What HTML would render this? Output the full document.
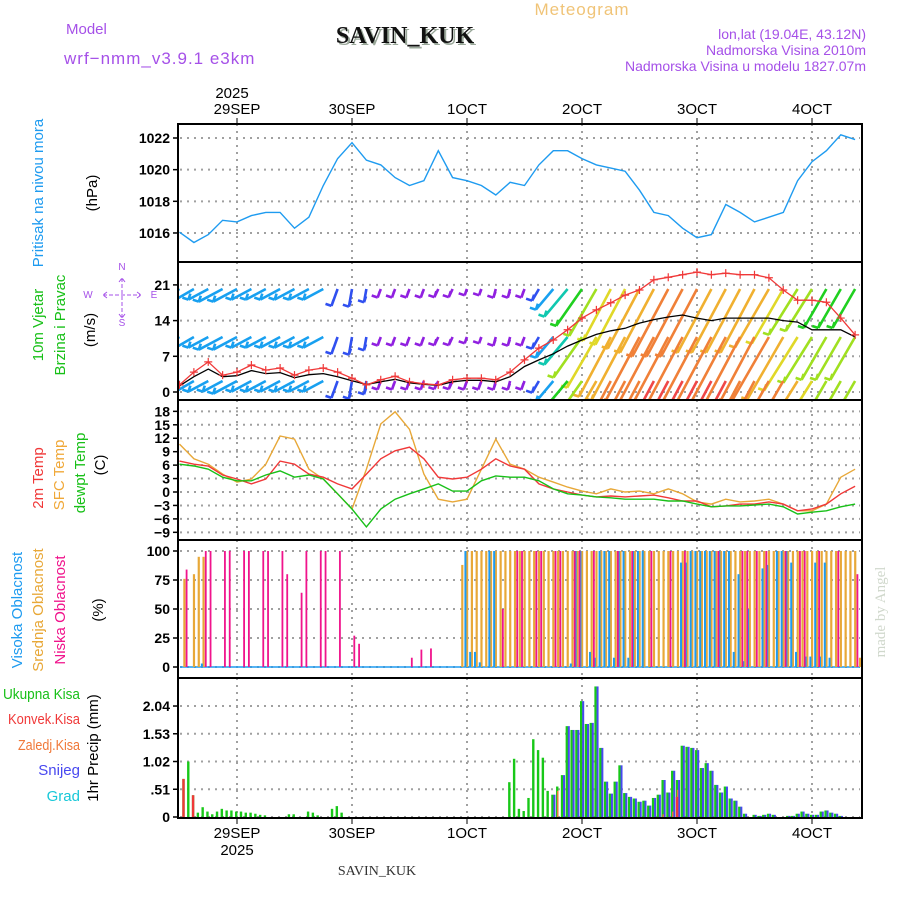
<!DOCTYPE html>
<html><head><meta charset="utf-8"><style>
html,body{margin:0;padding:0;background:#fff;}
svg{display:block;font-family:"Liberation Sans",sans-serif;}
.tk{font-size:14px;font-weight:bold;fill:#000;text-anchor:end;}
.dt{font-size:15px;fill:#000;text-anchor:middle;}
</style></head><body>
<svg id="chart" width="900" height="900" viewBox="0 0 900 900" xmlns="http://www.w3.org/2000/svg">
<defs>
<clipPath id="c1"><rect x="179" y="125" width="682" height="136"/></clipPath>
<clipPath id="c2"><rect x="179" y="263" width="682" height="136"/></clipPath>
<clipPath id="c3"><rect x="179" y="401" width="682" height="138"/></clipPath>
<clipPath id="c4"><rect x="179" y="541" width="682" height="136"/></clipPath>
<clipPath id="c5"><rect x="179" y="679" width="682" height="138"/></clipPath>
</defs>
<text x="582" y="15" font-size="17" fill="#f0c478" text-anchor="middle" letter-spacing="1">Meteogram</text>
<text x="66" y="34" font-size="15" fill="#a550e8">Model</text>
<text x="64" y="64" font-size="17" fill="#a550e8" letter-spacing="1">wrf−nmm_v3.9.1 e3km</text>
<text x="407" y="45" font-family="Liberation Serif" font-weight="bold" font-size="24" fill="#9aa89a" text-anchor="middle">SAVIN_KUK</text>
<text x="405" y="43" font-family="Liberation Serif" font-weight="bold" font-size="24" fill="#111" text-anchor="middle">SAVIN_KUK</text>
<text x="866" y="39" font-size="14" fill="#a550e8" text-anchor="end">lon,lat (19.04E, 43.12N)</text>
<text x="866" y="55" font-size="14" fill="#a550e8" text-anchor="end">Nadmorska Visina 2010m</text>
<text x="866" y="71" font-size="14" fill="#a550e8" text-anchor="end">Nadmorska Visina u modelu 1827.07m</text>
<g id="grid"></g>
<g id="marks"></g>
<g id="axes"></g>
<text transform="translate(43,193) rotate(-90)" font-size="15" fill="#1e9bf0" text-anchor="middle">Pritisak na nivou mora</text>
<text transform="translate(97,193) rotate(-90)" font-size="15" fill="#000" text-anchor="middle">(hPa)</text>
<text transform="translate(43,325) rotate(-90)" font-size="15" fill="#18c018" text-anchor="middle">10m Vjetar</text>
<text transform="translate(65,325) rotate(-90)" font-size="15" fill="#18c018" text-anchor="middle">Brzina i Pravac</text>
<text transform="translate(95,330) rotate(-90)" font-size="15" fill="#000" text-anchor="middle">(m/s)</text>
<g fill="#a550e8" font-size="10" text-anchor="middle">
<text x="122" y="270">N</text><text x="122" y="326">S</text><text x="88" y="298">W</text><text x="154" y="298">E</text>
<path d="M103 295 H141 M122 278 V318 M107 292 L103 295 L107 298 M137 292 L141 295 L137 298 M119 282 L122 278 L125 282 M119 314 L122 318 L125 314" stroke="#a550e8" stroke-width="1" fill="none" stroke-dasharray="4 2"/>
</g>
<text transform="translate(43,478) rotate(-90)" font-size="15" fill="#f03838" text-anchor="middle">2m Temp</text>
<text transform="translate(64,475) rotate(-90)" font-size="15" fill="#f0a838" text-anchor="middle">SFC Temp</text>
<text transform="translate(85,473) rotate(-90)" font-size="15" fill="#18c018" text-anchor="middle">dewpt Temp</text>
<text transform="translate(105,465) rotate(-90)" font-size="15" fill="#000" text-anchor="middle">(C)</text>
<text transform="translate(22,610) rotate(-90)" font-size="15" fill="#1e9bf0" text-anchor="middle">Visoka Oblacnost</text>
<text transform="translate(43,610) rotate(-90)" font-size="15" fill="#e8a838" text-anchor="middle">Srednja Oblacnost</text>
<text transform="translate(65,610) rotate(-90)" font-size="15" fill="#f0148c" text-anchor="middle">Niska Oblacnost</text>
<text transform="translate(103,610) rotate(-90)" font-size="15" fill="#000" text-anchor="middle">(%)</text>
<text x="3" y="699" font-size="15" fill="#18c018" textLength="77" lengthAdjust="spacingAndGlyphs">Ukupna Kisa</text>
<text x="8" y="724" font-size="15" fill="#f03838" textLength="72" lengthAdjust="spacingAndGlyphs">Konvek.Kisa</text>
<text x="18" y="750" font-size="15" fill="#f07838" textLength="62" lengthAdjust="spacingAndGlyphs">Zaledj.Kisa</text>
<text x="80" y="775" font-size="15" fill="#4848f0" text-anchor="end">Snijeg</text>
<text x="80" y="801" font-size="15" fill="#18c8d8" text-anchor="end">Grad</text>
<text transform="translate(98,748) rotate(-90)" font-size="15" fill="#000" text-anchor="middle">1hr Precip (mm)</text>
<text transform="translate(885,612) rotate(-90)" font-family="Liberation Serif" font-size="15" fill="#d0d8cc" text-anchor="middle">made by Angel</text>
<text x="377" y="875" font-family="Liberation Serif" font-size="14" fill="#333" text-anchor="middle">SAVIN_KUK</text>
</svg>
<script>
const days=["29SEP","30SEP","1OCT","2OCT","3OCT","4OCT"];
const dayHours=[12,36,60,84,108,132];
const pTicks=[1016,1018,1020,1022];
const wTicks=[0,7,14,21];
const tTicks=[18,15,12,9,6,3,0,-3,-6,-9];
const cTicks=[0,25,50,75,100];
const rTicks=[0,0.51,1.02,1.53,2.04];
const pressure=[1016.05,1015.4,1015.9,1016.8,1016.7,1017.1,1017.3,1017.3,1016.3,1017.0,1019.0,1020.7,1021.7,1020.6,1020.3,1019.5,1019.0,1019.3,1021.2,1019.5,1019.3,1019.0,1018.4,1019.2,1019.0,1020.3,1021.2,1021.2,1020.7,1020.3,1020.1,1019.9,1018.7,1017.3,1017.1,1016.3,1015.7,1015.9,1017.8,1017.3,1016.7,1017.0,1017.3,1019.3,1020.5,1021.2,1022.2,1021.9];
const temp2m=[6.9,6.2,5.8,3.8,2.9,1.8,2.9,6.9,6.2,4.0,3.3,1.8,0.7,4.0,7.4,9.2,10.0,7.4,3.3,2.9,3.3,5.1,7.4,5.8,5.1,1.8,0.7,0,-0.7,-1.1,-0.9,-1.1,-0.9,-0.7,-1.3,-2,-2,-3.3,-3.1,-2.7,-2.7,-2.2,-2.7,-4.2,-3.8,-2.7,-0.4,1.3];
const tempSfc=[10.7,7.4,6.2,4.0,2.2,2.9,6.2,12.5,11.8,5.1,2.9,-0.4,-3.8,5.1,15.2,17.9,14.0,4.0,-1.6,-2.2,-1.6,5.1,11.8,6.2,5.1,3.3,2.2,1.1,0.2,-0.4,0.7,0,0.2,-0.4,0.7,-0.4,-2.2,-2.7,-1.6,-2.2,-2,-1.6,-2.7,-4.2,-4.2,-2.7,3.3,5.1];
const dewpt=[6.2,5.8,5.1,3.3,2.5,2.5,3.8,4.7,3.3,3.8,2.9,-0.4,-3.8,-7.8,-3.8,-1.6,-0.4,0.7,1.8,0.2,0.2,2.5,3.6,3.3,3.3,2.5,0.7,-0.4,-0.7,-1.1,-1.3,-1.6,-1.6,-1.6,-2,-2,-2.7,-3.3,-3.1,-3.1,-2.9,-2.7,-3.3,-4.9,-4.5,-4.2,-3.3,-2.7];
const windSpeed=[1.4,3.9,5.9,3.3,3.9,5.3,4.3,4.7,3.3,4.3,4.7,3.9,2.7,1.4,2.4,3.1,2.0,1.6,1.4,2.4,2.7,2.7,2.4,3.9,6.3,8.6,10.2,12.2,14.5,16.1,17.5,19.0,20.0,22.0,22.5,23.0,23.5,23.0,23.3,23.0,23.0,22.4,20.0,18.0,18.0,17.6,14.5,11.2];
const windLow=[1.2,3.0,4.5,3.0,3.2,4.2,3.6,3.8,2.8,3.4,3.6,3.0,2.2,1.5,2.0,2.5,1.8,1.5,1.3,2.0,2.3,2.3,2.0,3.0,5.0,6.3,7.5,9.0,10.2,11.3,12.0,12.5,13.5,14.2,14.7,15.1,14.5,14.0,14.5,14.5,14.5,14.5,14.0,13.7,12.2,12.2,12.2,10.8];
const ws1=[5,5,5,6,6,5,5,5,5,5,5,4,4,3,2,2,2,2,2,2,1.5,1.5,2,2,2,3,6,8,10,12,13,14,15,16,17,17,17,16,16,16,16,15,14,12,11,10,10,10];
const ws2=[5,5,5,6,6,5,5,5,5,5,5,4,4,3,2,2,2,2,2,2,1.5,1.5,2,2,2,3,6,8,11,13,15,16,17,18,19,19,19,18,18,18,17,17,16,14,12,11,11,11];
const ws3=[4,5,5,5,6,5,5,5,5,5,5,4,4,3,2,2,2,2,2,2,2,2,2,2,2,3,6,9,12,15,17,18,19,20,21,21,21,20,20,19,19,18,17,15,13,12,12,12];
const wdir=[60,60,62,62,62,62,62,62,62,62,62,20,10,10,20,20,20,20,25,25,20,20,15,15,20,30,40,40,35,30,28,28,28,28,28,28,28,28,28,28,28,30,30,32,32,30,30,30];
const highC=[0,0,0,0,0,3,0,0,0,0,0,0,0,0,0,0,0,0,0,0,0,0,0,0,0,0,0,0,0,0,0,0,0,0,0,0,0,0,0,0,0,0,0,0,0,0,0,0,0,0,0,0,0,0,0,0,0,0,0,0,
100,13,13,4,0,100,100,0,0,0,0,0,0,0,0,0,0,0,0,0,0,0,3,100,100,0,13,8,100,100,100,8,100,100,8,100,100,100,0,0,0,0,0,0,0,90,90,100,100,100,100,100,100,100,100,100,13,80,5,50,0,0,85,88,0,100,100,100,90,13,0,9,9,90,9,90,8,0,0,0,0,0,0];
const midC=[0,76,0,80,95,95,0,0,0,0,0,0,0,0,0,0,0,0,0,0,0,0,0,0,0,0,0,0,0,0,0,0,0,0,0,0,0,0,0,0,0,0,0,0,0,0,0,0,0,0,0,0,0,0,0,0,0,0,0,88,
100,100,100,100,100,100,100,100,100,100,100,100,100,100,100,100,100,100,100,100,100,100,100,100,100,100,100,100,100,100,100,100,100,100,100,100,100,100,100,100,100,100,100,100,100,100,100,100,100,100,100,100,100,100,100,100,100,100,100,100,100,100,100,100,100,100,100,100,100,100,100,100,100,100,100,100,100,100,100,100,100,100,8];
const lowC=[0,84,0,0,0,100,100,0,0,100,100,0,0,100,100,0,0,100,100,0,0,100,80,0,0,64,100,0,0,100,100,0,0,100,0,0,27,20,0,0,0,0,0,0,0,0,0,0,8,0,15,0,16,0,0,0,0,0,0,0,
0,0,0,0,0,0,0,50,0,0,100,100,0,0,100,100,0,0,100,100,0,0,100,100,0,0,100,0,0,0,0,100,0,0,100,0,0,0,100,0,0,0,100,0,0,100,0,0,0,0,0,0,100,0,0,0,0,100,100,0,100,0,100,0,0,0,100,0,0,100,100,0,0,100,0,0,0,100,0,0,0,80,0];
const totalP=[0,0.7,1.02,0.4,0.08,0.18,0.1,0.05,0.1,0.15,0.12,0.12,0.1,0.1,0.08,0.08,0.06,0.04,0.03,0,0,0,0,0.05,0.05,0,0,0.1,0.08,0.03,0,0,0.15,0.2,0.08,
0,0,0,0,0,0,0,0,0,0,0,0,0,0,0,0,0,0,0,0,0,0,0,0,0,0,0,0,0,0,0,0,0,0,
0.64,1.07,0.15,0.11,0.35,1.43,1.23,1.09,0.48,0.41,0.56,0.77,1.67,1.6,1.6,2.13,1.71,1.73,2.40,1.27,0.65,0.43,0.65,0.95,0.44,0.37,0.34,0.28,0.30,0.21,0.35,0.41,0.68,0.45,0.85,0.68,1.31,1.29,1.27,1.23,0.90,0.99,0.85,0.59,0.45,0.56,0.34,0.30,0.19,0.06,0,0.04,0.02,0.04,0.06,0.04,0,0,0.02,0.02,0.06,0.10,0.06,0.04,0.04,0.10,0.12,0.08,0.06,0.02,0,0,0,0];
const snowP=[0,0,0,0,0,0,0,0,0,0,0,0,0,0,0,0,0,0,0,0,0,0,0,0,0,0,0,0,0,0,0,0,0,0,0,
0,0,0,0,0,0,0,0,0,0,0,0,0,0,0,0,0,0,0,0,0,0,0,0,0,0,0,0,0,0,0,0,0,0,
0,0,0,0,0,0,0,0,0,0.41,0,0.77,1.67,1.6,1.6,2.13,1.71,1.73,2.40,1.27,0.65,0.43,0.65,0.95,0.44,0.37,0.34,0.28,0.30,0.21,0.35,0.41,0.68,0.45,0.85,0.68,1.31,1.29,1.27,1.23,0.90,0.99,0.85,0.59,0.45,0.56,0.34,0.30,0.19,0.06,0,0.04,0.02,0.04,0.06,0.04,0,0,0.02,0.02,0.06,0.10,0.06,0.04,0.04,0.10,0.12,0.08,0.06,0.02,0,0,0,0];
const convP=[0,0.7,0,0.4,0,0,0,0,0,0,0,0,0,0,0,0,0,0,0,0,0,0,0,0,0,0,0,0,0,0,0,0,0,0,0,0,0,0,0,0,0,0,0,0,0,0,0,0,0,0,0,0,0,0,0,0,0,0,0,0,0,0,0,0,0,0,0,0,0,0,0,0,0,0,0,0,0,0,0,0,0,0,0,0,0,0,0,0,0,0,0,0,0,0,0,0,0,0,0,0,0,0,0,0,0.37];
const frzP=[0,0,0,0,0,0,0,0,0,0,0,0,0,0,0,0,0,0,0,0,0,0,0,0,0,0,0,0,0,0,0,0,0,0,0,0,0,0,0,0,0,0,0,0,0,0,0,0,0,0,0,0,0,0,0,0,0,0,0,0,0,0,0,0,0,0,0,0,0,0,0,0,0,0,0,0,0,0,0,0.48,0,0,0,0,0,0,0,0,0,0,0,0,0,0,0,0,0,0,0,0,0,0.05,0,0.1,0.5];

const NS="http://www.w3.org/2000/svg";
const X=h=>179.5+h*115/24;
const yP=v=>138+(1022-v)*15.83;
const yW=v=>392-v*5.1;
const yT=v=>492-v*4.48;
const yC=v=>667-v*1.16;
const yR=v=>817-v*54.4;
const grid=document.getElementById('grid'),marks=document.getElementById('marks'),axes=document.getElementById('axes');
function mk(tag,at,parent){const e=document.createElementNS(NS,tag);for(const k in at)e.setAttribute(k,at[k]);parent.appendChild(e);return e;}
function windColor(s){if(s<3)return'#9020e0';if(s<4.5)return'#3050f0';if(s<6.5)return'#18a0f0';if(s<9)return'#10c8b0';if(s<11)return'#20d020';if(s<13)return'#a0e020';if(s<15)return'#e0d828';if(s<17)return'#f0b030';if(s<19.5)return'#f08038';if(s<22)return'#f04848';return'#f02890';}

const panels=[[124,262],[262,400],[400,540],[540,678],[678,818]];
panels.forEach((p,pi)=>{dayHours.forEach(h=>{const l=mk('line',{x1:X(h),x2:X(h),y1:p[0],y2:p[1],stroke:'#a0a0a0','stroke-width':2,'stroke-dasharray':'2 5'},grid);

});});
function hgrid(ticks,f,lab){ticks.forEach(v=>{const y=f(v);const g=mk('line',{x1:180,x2:860,y1:y,y2:y,stroke:'#a0a0a0','stroke-width':2,'stroke-dasharray':'2 5'},grid);


mk('line',{x1:173,x2:179,y1:y,y2:y,stroke:'#000','stroke-width':1.5},axes);
const t=mk('text',{x:170,y:y+5,class:'tk'},axes);t.textContent=lab?lab(v):String(v).replace('-','−');

});}
hgrid(pTicks,yP);hgrid(wTicks,yW);hgrid(tTicks,yT);hgrid(cTicks,yC);hgrid(rTicks,yR,v=>v===0?'0':v.toFixed(2).replace(/^0/,''));

function line(arr,f,color,clip,name,w){const g=mk('g',{'clip-path':'url(#'+clip+')'},marks);const pts=arr.map((v,i)=>X(3*i).toFixed(1)+','+f(v).toFixed(1)).join(' ');
const pl=mk('polyline',{points:pts,fill:'none',stroke:color,'stroke-width':w||1.4},g);

return g;}
line(pressure,yP,'#1e9bf0','c1','pressure-line');

const wg=mk('g',{'clip-path':'url(#c2)'},marks);
[[ws1,289],[ws2,337],[ws3,381]].forEach(([ws,row],ri)=>{ws.forEach((s,i)=>{const a=wdir[i]*Math.PI/180,L=4.5*s;const x0=X(3*i),x1=x0-L*Math.sin(a),y1=row+L*Math.cos(a);const c=windColor(s);
const b=mk('path',{d:`M${x0.toFixed(1)} ${row} L${x1.toFixed(1)} ${y1.toFixed(1)} M${x1.toFixed(1)} ${y1.toFixed(1)} l-6 -2 M${x1.toFixed(1)} ${y1.toFixed(1)} l2 -6`,stroke:c,'stroke-width':2.6,fill:'none'},wg);

});});
line(windLow,yW,'#000','c2','wind-low-line',1.3);
const rg=line(windSpeed,yW,'#f03838','c2','wind-speed-line',1.3);
windSpeed.forEach((v,i)=>{const x=X(3*i),y=yW(v);const m=mk('path',{d:`M${x-4} ${y} h8 M${x} ${y-4} v8`,stroke:'#f03838','stroke-width':1.2},rg);

});

line(tempSfc,yT,'#e8a838','c3','sfc-temp-line');
line(temp2m,yT,'#f03838','c3','temp-2m-line');
line(dewpt,yT,'#18c018','c3','dewpoint-line');

const cg=mk('g',{'clip-path':'url(#c4)'},marks);
function bars(arr,f,color,off,w,g,name){arr.forEach((v,h)=>{if(v<=0)return;const y=f(v);const r=mk('rect',{x:X(h)+off,y:y,width:w,height:f(0)-y,fill:color},g);

});}
mk('line',{x1:180,x2:860,y1:yC(0),y2:yC(0),stroke:'#1e9bf0','stroke-width':1.5},cg);
bars(midC,yC,'#e8a838',-1,2.2,cg,'mid-cloud-bar');
bars(highC,yC,'#1e9bf0',-2.6,2,cg,'high-cloud-bar');
bars(lowC,yC,'#f0148c',1.4,1.8,cg,'low-cloud-bar');

const pg=mk('g',{'clip-path':'url(#c5)'},marks);
bars(totalP,yR,'#18c818',-2,2.4,pg,'total-precip-bar');
bars(snowP,yR,'#4848f0',0.2,2,pg,'snow-bar');
bars(frzP,yR,'#f07838',-1,1.4,pg,'freezing-precip-bar');
bars(convP,yR,'#f03838',-2,2.4,pg,'convective-precip-bar');

panels.forEach(p=>{const r=mk('rect',{x:178,y:p[0],width:684,height:p[1]-p[0],fill:'none',stroke:'#000','stroke-width':2},axes);

});
days.forEach((d,i)=>{const x=X(dayHours[i]);
mk('line',{x1:x,x2:x,y1:118,y2:124,stroke:'#000'},axes);mk('line',{x1:x,x2:x,y1:818,y2:824,stroke:'#000'},axes);
const t=mk('text',{x:x,y:114,class:'dt'},axes);t.textContent=d;


const b=mk('text',{x:x,y:838,class:'dt'},axes);b.textContent=d;

});
const y1=mk('text',{x:X(12)-5,y:98,class:'dt'},axes);y1.textContent='2025';


const y2=mk('text',{x:X(12),y:855,class:'dt'},axes);y2.textContent='2025';


</script>
</body></html>
